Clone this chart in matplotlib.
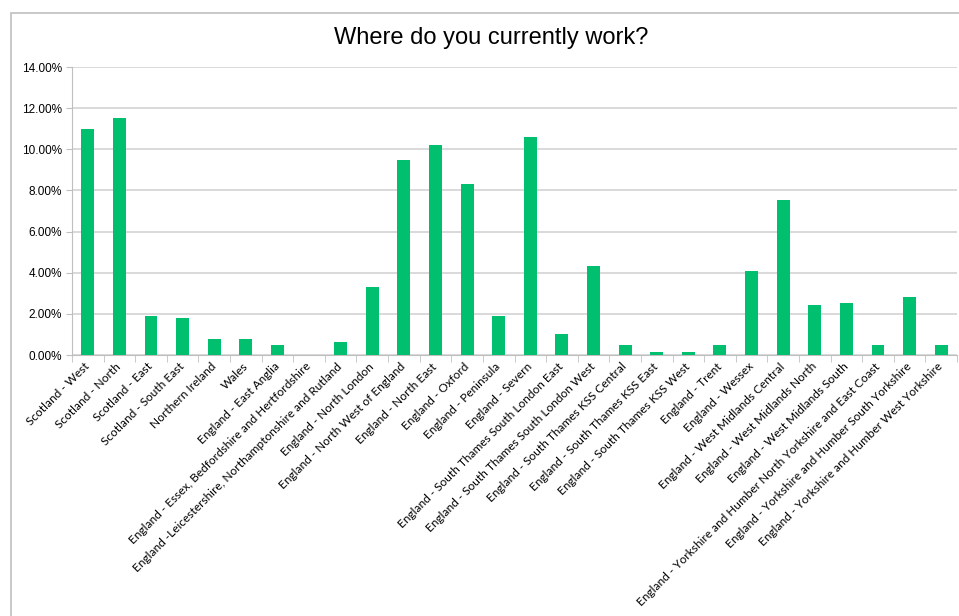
import matplotlib
matplotlib.use("Agg")
import matplotlib.pyplot as plt
import numpy as np
from matplotlib.patches import Rectangle
from matplotlib.ticker import PercentFormatter

regions = [
    "Scotland - West",
    "Scotland - North",
    "Scotland - East",
    "Scotland - South East",
    "Northern Ireland",
    "Wales",
    "England - East Anglia",
    "England - Essex, Bedfordshire and Hertfordshire",
    "England -Leicestershire, Northamptonshire and Rutland",
    "England - North London",
    "England - North West of England",
    "England - North East",
    "England - Oxford",
    "England - Peninsula",
    "England - Severn",
    "England - South Thames South London East",
    "England - South Thames South London West",
    "England - South Thames KSS Central",
    "England - South Thames KSS East",
    "England - South Thames KSS West",
    "England - Trent",
    "England - Wessex",
    "England - West Midlands Central",
    "England - West Midlands North",
    "England - West Midlands South",
    "England - Yorkshire and Humber North Yorkshire and East Coast",
    "England - Yorkshire and Humber South Yorkshire",
    "England - Yorkshire and Humber West Yorkshire",
]
shares = [11.0, 11.51, 1.91, 1.78, 0.76, 0.76, 0.49, 0.0, 0.62, 3.31,
          9.47, 10.23, 8.30, 1.91, 10.61, 1.02, 4.35, 0.50, 0.13, 0.13,
          0.50, 4.09, 7.54, 2.42, 2.55, 0.50, 2.81, 0.50]
y_ticks = [0, 2, 4, 6, 8, 10, 12, 14]

plt.rcParams['font.family'] = ['Liberation Sans', 'DejaVu Sans']

fig = plt.figure(figsize=(9.59, 6.16), dpi=100)
# chart area border
fig.patches.append(Rectangle((11 / 959, -0.1), 1.2, 1 - 13 / 616 + 0.1,
                             transform=fig.transFigure, fill=False,
                             edgecolor='#bfbfbf', linewidth=1.2))

ax = fig.add_axes([72 / 959, 1 - 355 / 616, 885 / 959, 288 / 616])
x = np.arange(len(regions))
ax.bar(x, shares, width=0.41, color='#00bf6f', zorder=3)

ax.set_xlim(-0.5, len(regions) - 0.5)
ax.set_ylim(0, 14)
ax.set_yticks(y_ticks)
ax.yaxis.set_major_formatter(PercentFormatter(decimals=2))
ax.grid(axis='y', color='#d0d0d0', linewidth=1.1, zorder=0)
for side in ['top', 'right']:
    ax.spines[side].set_visible(False)
ax.spines['left'].set_color('#bfbfbf')
ax.spines['bottom'].set_color('#bfbfbf')
ax.tick_params(axis='y', length=4, color='#bfbfbf', labelsize=8.5, pad=3)

ax.set_xticks(x)
ax.set_xticklabels(regions, rotation=45, ha='right', va='center',
                   rotation_mode='anchor', fontsize=8.6,
                   family=['Lato', 'DejaVu Sans'])
ax.tick_params(axis='x', which='major', length=0, pad=7)
ax.set_xticks(np.arange(len(regions) + 1) - 0.5, minor=True)
ax.tick_params(axis='x', which='minor', length=5, color='#bfbfbf')

fig.text(491 / 959, 1 - 38 / 616, "Where do you currently work?",
         ha='center', va='center', fontsize=17)

fig.savefig("out.png", dpi=100)
